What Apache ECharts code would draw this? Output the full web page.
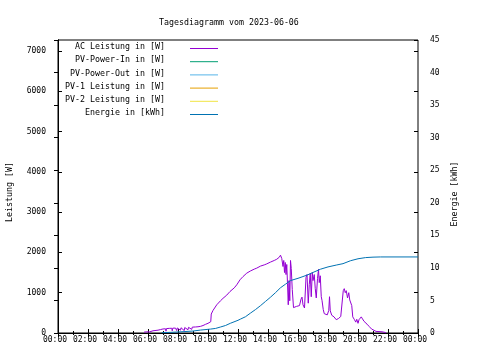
<!DOCTYPE html>
<html><head><meta charset="utf-8">
<script src="https://cdn.jsdelivr.net/npm/echarts@6/dist/echarts.min.js"></script>
<style>html,body{margin:0;padding:0;background:#fff}#c{width:480px;height:360px}</style>
</head><body><div id="c"></div>
<script>
const chartTitle = 'Tagesdiagramm vom 2023-06-06';
const xTickLabels = ['00:00','02:00','04:00','06:00','08:00','10:00','12:00','14:00','16:00','18:00','20:00','22:00','00:00'];
const seriesNames = ['AC Leistung in [W]','PV-Power-In in [W]','PV-Power-Out in [W]','PV-1 Leistung in [W]','PV-2 Leistung in [W]','Energie in [kWh]'];
const seriesColors = ['#9400d3','#009e73','#56b4e9','#e69f00','#f0e442','#0072b2'];

const acTimes = ["05:44","05:50","05:55","06:00","06:05","06:10","06:20","06:25","06:27","06:40","06:50","06:52","06:54","07:00","07:10","07:12","07:14","07:25","07:35","07:37","07:39","07:50","07:55","07:57","08:05","08:10","08:12","08:20","08:25","08:27","08:35","08:40","08:42","08:50","08:55","08:57","09:10","09:20","09:30","09:40","09:50","10:00","10:08","10:11","10:13","10:20","10:35","10:50","11:00","11:15","11:28","11:45","11:55","12:08","12:20","12:35","12:50","13:05","13:15","13:30","13:45","13:55","14:10","14:25","14:35","14:45","14:50","14:55","15:00","15:03","15:06","15:09","15:12","15:15","15:18","15:21","15:24","15:27","15:30","15:33","15:37","15:42","15:48","15:54","16:00","16:06","16:12","16:16","16:20","16:26","16:32","16:36","16:41","16:45","16:49","16:53","16:57","17:00","17:05","17:09","17:13","17:18","17:22","17:25","17:29","17:33","17:36","17:41","17:45","17:51","17:57","18:03","18:06","18:09","18:15","18:24","18:33","18:42","18:51","18:57","19:01","19:05","19:09","19:13","19:18","19:23","19:27","19:30","19:35","19:39","19:45","19:51","19:55","20:00","20:04","20:09","20:13","20:18","20:24","20:30","20:36","20:45","20:54","21:00","21:12","21:24","21:36","21:48","21:52"];
const acWatts = [20,35,30,45,25,50,55,30,60,70,85,40,90,100,105,45,110,115,118,55,120,122,60,125,128,70,130,132,60,135,138,80,140,142,90,145,150,155,165,185,215,240,265,280,470,560,700,800,860,940,1030,1120,1196,1320,1400,1485,1540,1585,1610,1660,1690,1715,1760,1800,1830,1880,1930,1850,1650,1800,1500,1750,1450,1700,1230,700,1300,800,1800,1600,1080,630,620,660,640,680,840,890,700,620,1380,1450,740,1200,1480,900,1500,1300,1450,1100,870,1350,1580,1250,1420,900,810,580,480,440,450,560,900,550,440,400,330,360,410,450,1050,1100,1000,1050,870,1000,820,850,680,400,340,270,340,240,330,300,400,350,290,260,220,160,100,75,40,35,30,15,0];

const energyTimes = ["06:55","07:30","08:20","09:00","09:30","10:10","10:30","10:50","11:10","11:30","12:00","12:10","12:30","12:50","13:10","13:30","13:50","14:10","14:30","14:50","15:10","15:30","16:00","16:20","16:40","17:00","17:30","18:00","18:35","19:00","19:30","20:00","20:30","21:00","21:30","24:00"];
const energyKWh = [0.05,0.1,0.2,0.3,0.45,0.6,0.7,0.92,1.15,1.5,1.95,2.14,2.5,3.06,3.6,4.2,4.85,5.5,6.2,6.95,7.5,8.05,8.4,8.67,8.95,9.3,9.8,10.15,10.45,10.65,11.1,11.4,11.58,11.65,11.68,11.68];

const toMin = s => { const p = s.split(':'); return (+p[0]) * 60 + (+p[1]); };
const acData = acTimes.map((t, i) => [toMin(t), acWatts[i]]);
const energyData = energyTimes.map((t, i) => [toMin(t), energyKWh[i]]);

const FONT = 'DejaVu Sans Mono';
const chart = echarts.init(document.getElementById('c'), null, {renderer: 'canvas'});

const baseX = {
  type: 'value', min: 0, max: 1440, interval: 120,
  axisLine: {show: true, lineStyle: {color: '#000', width: 1}},
  axisTick: {show: true, inside: true, length: 4, lineStyle: {color: '#000'}},
  minorTick: {show: true, splitNumber: 2, length: 2, lineStyle: {color: '#000'}},
  splitLine: {show: false}, minorSplitLine: {show: false}
};

const legendGraphics = [];
seriesNames.forEach((n, i) => {
  const y = 47 + i * 13.2;
  legendGraphics.push({type: 'text', x: 165, y: y,
    style: {text: n, font: '8.3px "' + FONT + '"', fill: '#000', textAlign: 'right', textVerticalAlign: 'middle'}});
  legendGraphics.push({type: 'line', shape: {x1: 190, y1: y + 1.5, x2: 218, y2: y + 1.5},
    style: {stroke: seriesColors[i], lineWidth: 1}});
});

const option = {
  animation: false,
  backgroundColor: '#fff',
  title: {text: chartTitle, left: 154, top: 14,
    textStyle: {fontFamily: FONT, fontSize: 8.3, fontWeight: 'normal', color: '#000'}},
  grid: {left: 58, top: 40, width: 360, height: 293, show: true, borderColor: '#000', borderWidth: 1, backgroundColor: 'transparent'},
  xAxis: [
    Object.assign({}, baseX, {position: 'bottom',
      axisLabel: {show: true, margin: 3, padding: [0, 6, 0, 0], fontFamily: FONT, fontSize: 8, color: '#000',
        formatter: v => xTickLabels[Math.round(v / 120)]}}),
    Object.assign({}, baseX, {position: 'top', axisLabel: {show: false}})
  ],
  yAxis: [
    {type: 'value', position: 'left', min: 0, max: 7270, interval: 1000,
      axisLine: {show: true, lineStyle: {color: '#000'}},
      axisTick: {show: true, inside: true, length: 4, lineStyle: {color: '#000'}},
      axisLabel: {show: true, margin: 12, fontFamily: FONT, fontSize: 8, color: '#000', showMaxLabel: false,
        formatter: v => String(v)},
      splitLine: {show: false}},
    {type: 'value', position: 'right', min: 0, max: 45, interval: 5,
      axisLine: {show: true, lineStyle: {color: '#000'}},
      axisTick: {show: true, inside: true, length: 4, lineStyle: {color: '#000'}},
      axisLabel: {show: true, margin: 12, fontFamily: FONT, fontSize: 8, color: '#000', formatter: v => String(v)},
      splitLine: {show: false}},
    {type: 'value', position: 'right', min: 0, max: 7270, interval: 1000,
      axisLine: {show: false},
      axisTick: {show: true, inside: true, length: 4, lineStyle: {color: '#000'}},
      axisLabel: {show: false}, splitLine: {show: false}}
  ],
  graphic: [
    {type: 'text', x: 10, y: 192, rotation: Math.PI / 2,
      style: {text: 'Leistung [W]', font: '8.3px "' + FONT + '"', fill: '#000', textAlign: 'center', textVerticalAlign: 'middle'}},
    {type: 'text', x: 455, y: 194, rotation: Math.PI / 2,
      style: {text: 'Energie [kWh]', font: '8.3px "' + FONT + '"', fill: '#000', textAlign: 'center', textVerticalAlign: 'middle'}}
  ].concat(legendGraphics),
  series: [
    {name: seriesNames[0], type: 'line', xAxisIndex: 0, yAxisIndex: 0, data: acData, showSymbol: false,
      lineStyle: {color: seriesColors[0], width: 1}, itemStyle: {color: seriesColors[0]}},
    {name: seriesNames[1], type: 'line', yAxisIndex: 0, data: [], showSymbol: false, lineStyle: {color: seriesColors[1], width: 1}},
    {name: seriesNames[2], type: 'line', yAxisIndex: 0, data: [], showSymbol: false, lineStyle: {color: seriesColors[2], width: 1}},
    {name: seriesNames[3], type: 'line', yAxisIndex: 0, data: [], showSymbol: false, lineStyle: {color: seriesColors[3], width: 1}},
    {name: seriesNames[4], type: 'line', yAxisIndex: 0, data: [], showSymbol: false, lineStyle: {color: seriesColors[4], width: 1}},
    {name: seriesNames[5], type: 'line', xAxisIndex: 0, yAxisIndex: 1, data: energyData, showSymbol: false,
      lineStyle: {color: seriesColors[5], width: 1}, itemStyle: {color: seriesColors[5]}}
  ]
};
chart.setOption(option);
</script>
</body></html>
